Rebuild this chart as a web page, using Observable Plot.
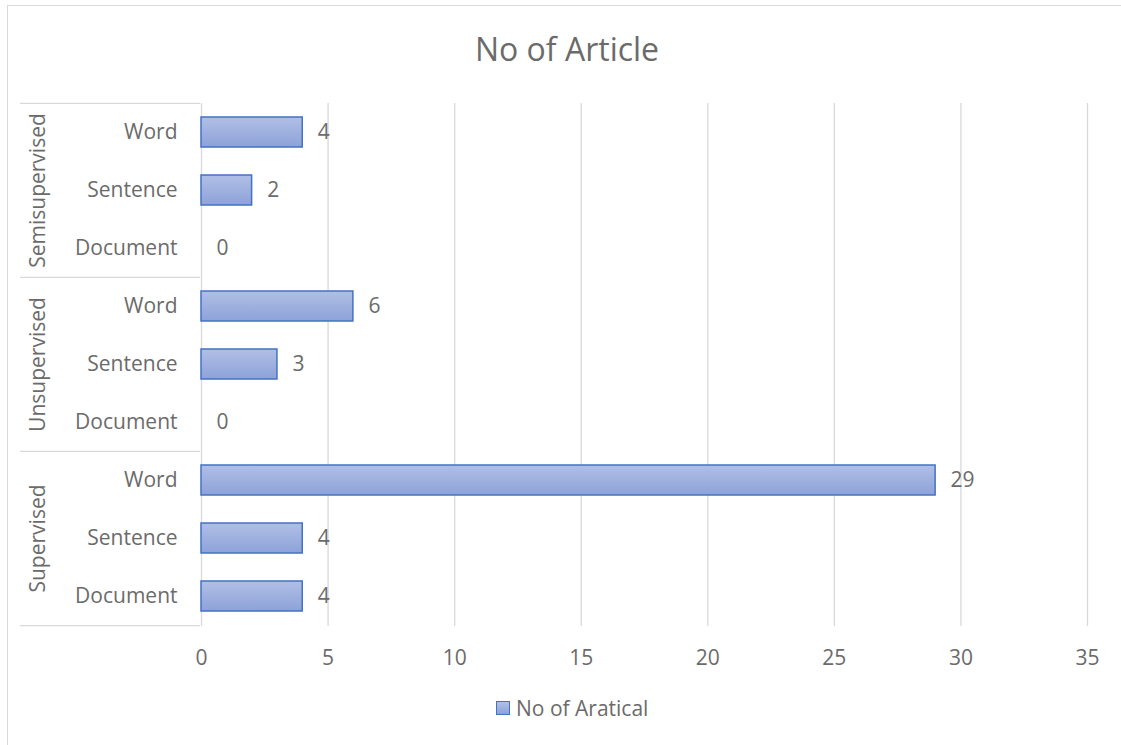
<!DOCTYPE html>
<html><head><meta charset="utf-8">
<script src="https://cdn.jsdelivr.net/npm/d3@7"></script>
<script src="https://cdn.jsdelivr.net/npm/@observablehq/plot@0.6"></script>
<style>
body{margin:0;background:#fff;overflow:hidden;font-family:"Open Sans",sans-serif;}
#wrap{position:relative;width:1121px;height:745px;overflow:hidden;background:#fff;}
#border{position:absolute;left:7px;top:5px;width:1300px;height:900px;border:1.3px solid #d9d9d9;box-sizing:border-box;}
#title{position:absolute;top:33px;left:0;width:1134px;text-align:center;font-size:32px;line-height:32px;color:#6b6b6b;}
#chart{position:absolute;top:80px;left:0;}
#legend{position:absolute;top:698px;left:496px;display:flex;align-items:flex-start;font-size:21px;line-height:20px;color:#6b6b6b;}
#legend .sw{width:12px;height:12px;margin-top:3px;border:1.6px solid #4472c4;background:linear-gradient(#b0bfe6,#8da2d8);}
#legend .lb{margin-left:6px;}
</style></head>
<body>
<div id="wrap">
  <div id="border"></div>
  <div id="title"></div>
  <div id="chart"></div>
  <div id="legend"><div class="sw"></div><div class="lb"></div></div>
</div>
<script>
const chartTitle = "No of Article";
const seriesName = "No of Aratical";
const groups = ["Semisupervised", "Unsupervised", "Supervised"];
const levels = ["Word", "Sentence", "Document"];
const semisupervisedValues = [4, 2, 0];
const unsupervisedValues = [6, 3, 0];
const supervisedValues = [29, 4, 4];
const xTicks = [0, 5, 10, 15, 20, 25, 30, 35];

const valuesByGroup = [semisupervisedValues, unsupervisedValues, supervisedValues];
const data = [];
groups.forEach((g, gi) => levels.forEach((l, li) => {
  data.push({group: g, level: l, key: g + "|" + l, value: valuesByGroup[gi][li]});
}));
const keys = data.map(d => d.key);

const W = 1121, H = 620, mT = 23, mB = 74, mL = 201, mR = 34;
const step = (H - mT - mB) / keys.length;
const textColor = "#6b6b6b";
const gridColor = "#d9d9d9";
const fs = 21;

const groupTops = groups.map(g => g + "|" + levels[0]);
const groupMids = groups.map(g => ({group: g, key: g + "|" + levels[1]}));
const lastKey = keys[keys.length - 1];

document.getElementById("title").textContent = chartTitle;
document.querySelector("#legend .lb").textContent = seriesName;

const defs = () => {
  const d = d3.create("svg:defs");
  const lg = d.append("linearGradient").attr("id", "barGrad").attr("x1", 0).attr("y1", 0).attr("x2", 0).attr("y2", 1);
  lg.append("stop").attr("offset", "0%").attr("stop-color", "#b0bfe6");
  lg.append("stop").attr("offset", "100%").attr("stop-color", "#8da2d8");
  return d.node();
};

const chart = Plot.plot({
  width: W, height: H,
  marginTop: mT, marginBottom: mB, marginLeft: mL, marginRight: mR,
  style: {fontFamily: "'Open Sans', sans-serif", background: "transparent", overflow: "visible"},
  x: {domain: [0, 35], ticks: xTicks},
  y: {domain: keys, paddingInner: 0.48, paddingOuter: 0.24},
  marks: [
    defs,
    Plot.ruleX(xTicks, {stroke: gridColor, strokeWidth: 1.3}),
    Plot.ruleY(groupTops, {y: d => d, dy: -step / 2, insetLeft: -(mL - 20), insetRight: (W - mL - mR) + 1, stroke: gridColor, strokeWidth: 1.3}),
    Plot.ruleY([lastKey], {y: d => d, dy: step / 2, insetLeft: -(mL - 20), insetRight: (W - mL - mR) + 1, stroke: gridColor, strokeWidth: 1.3}),
    Plot.barX(data, {y: "key", x: "value", fill: "url(#barGrad)", stroke: "#4472c4", strokeWidth: 1.5}),
    Plot.text(data, {y: "key", x: "value", text: d => String(d.value), textAnchor: "start", dx: 15, fontSize: fs, fill: textColor}),
    Plot.text(groupMids, {y: "key", frameAnchor: "left", textAnchor: "middle", text: "group", rotate: -90, dx: -163, fontSize: fs, fill: textColor}),
    Plot.axisX({ticks: xTicks, tickSize: 0, tickPadding: 24, fontSize: fs, color: textColor, label: null}),
    Plot.axisY({tickSize: 0, tickPadding: 24, fontSize: fs, color: textColor, label: null, tickFormat: k => k.split("|")[1]})
  ]
});
document.getElementById("chart").appendChild(chart);
</script>
</body></html>
